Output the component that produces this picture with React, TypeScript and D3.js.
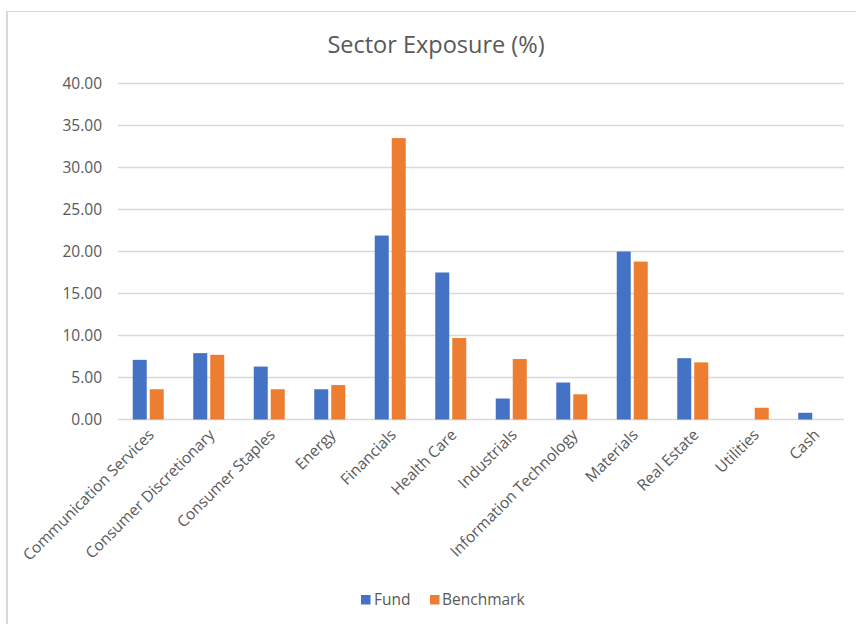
import React from "react";
import * as d3 from "d3";

const categories = [
  "Communication Services",
  "Consumer Discretionary",
  "Consumer Staples",
  "Energy",
  "Financials",
  "Health Care",
  "Industrials",
  "Information Technology",
  "Materials",
  "Real Estate",
  "Utilities",
  "Cash",
];
const fundValues = [7.1, 7.9, 6.3, 3.6, 21.9, 17.5, 2.5, 4.4, 20.0, 7.3, 0, 0.8];
const benchmarkValues = [3.6, 7.7, 3.6, 4.1, 33.5, 9.7, 7.2, 3.0, 18.8, 6.8, 1.4, 0];
const yTicks = [0, 5, 10, 15, 20, 25, 30, 35, 40];
const seriesNames = ["Fund", "Benchmark"];
const seriesColors = ["#4472C4", "#ED7D31"];

const W = 856;
const H = 624;
const FONT = "'Open Sans', sans-serif";
const TEXT = "#595959";
const GRID = "#D9D9D9";

export default function App() {
  const x = d3.scaleBand<string>().domain(categories).range([118, 844]).padding(0);
  const y = d3.scaleLinear().domain([0, 40]).range([419.5, 83.5]);
  const barW = 14;
  const gap = 3;
  const series = [fundValues, benchmarkValues];

  return (
    <svg
      width={W}
      height={H}
      style={{ position: "absolute", left: 0, top: 0, background: "#fff" }}
      fontFamily={FONT}
    >
      <rect x={0} y={0} width={W} height={H} fill="#fff" />
      {/* chart border */}
      <line x1={7} y1={11.5} x2={W} y2={11.5} stroke={GRID} strokeWidth={1} />
      <line x1={7} y1={11} x2={7} y2={H} stroke={GRID} strokeWidth={2} />

      <text x={436} y={53} textAnchor="middle" fontSize={23.5} fill={TEXT}>
        Sector Exposure (%)
      </text>

      {yTicks.map((t) => (
        <g key={t}>
          <line x1={118} x2={844} y1={y(t)} y2={y(t)} stroke={GRID} strokeWidth={t === 0 ? 1.3 : 1.3} />
          <text x={102} y={y(t)} dy="0.36em" textAnchor="end" fontSize={15.5} fill={TEXT}>
            {t.toFixed(2)}
          </text>
        </g>
      ))}

      {categories.map((c, i) => {
        const cx = (x(c) as number) + x.bandwidth() / 2;
        return (
          <g key={c}>
            {series.map((vals, s) => {
              const v = vals[i];
              if (!v) return null;
              const bx = s === 0 ? cx - gap / 2 - barW : cx + gap / 2;
              return (
                <rect
                  key={s}
                  x={bx}
                  y={y(v)}
                  width={barW}
                  height={y(0) - y(v)}
                  fill={seriesColors[s]}
                />
              );
            })}
            <text
              transform={`translate(${cx + 3},${432}) rotate(-45)`}
              textAnchor="end"
              dy="0.35em"
              fontSize={15.5}
              fill={TEXT}
            >
              {c}
            </text>
          </g>
        );
      })}

      {/* legend */}
      <g>
        <rect x={361} y={595} width={9.5} height={9.5} fill={seriesColors[0]} />
        <text x={374} y={605} fontSize={15.5} fill={TEXT}>
          {seriesNames[0]}
        </text>
        <rect x={430} y={595} width={9.5} height={9.5} fill={seriesColors[1]} />
        <text x={442} y={605} fontSize={15.5} fill={TEXT}>
          {seriesNames[1]}
        </text>
      </g>
    </svg>
  );
}
